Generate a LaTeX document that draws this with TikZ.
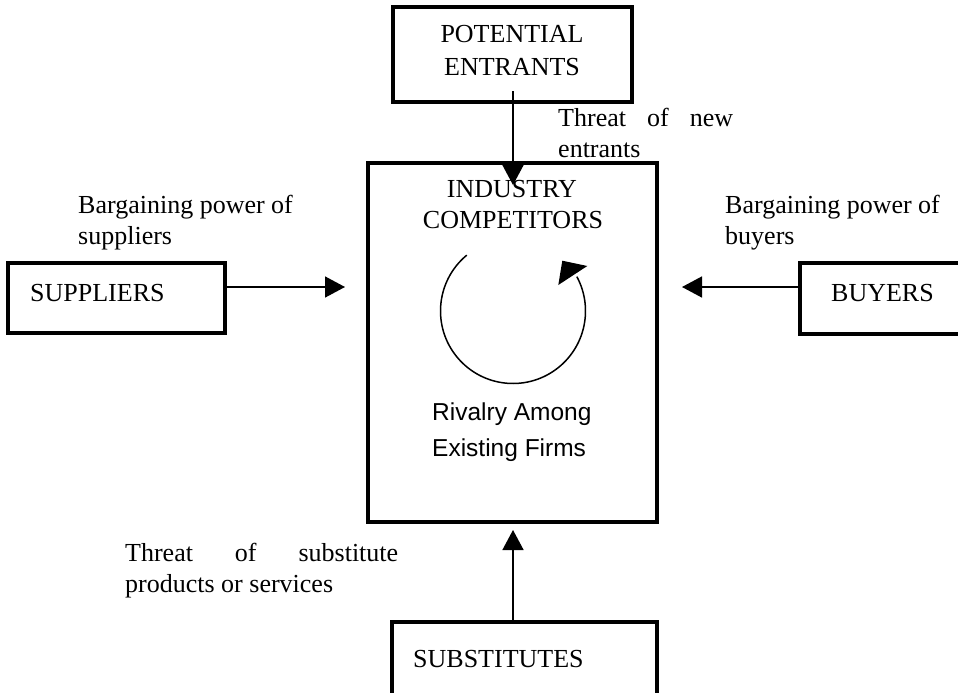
\documentclass[tikz,border=0pt]{standalone}
\usepackage{fontspec}
\setmainfont{Liberation Serif}
\newfontfamily\arialf{Liberation Sans}
\usetikzlibrary{arrows.meta}
\begin{document}
\begin{tikzpicture}[x=1pt,y=-1pt,
  box/.style={draw, line width=3.4pt, inner sep=0pt, rectangle},
  lbl/.style={inner sep=0pt, anchor=base west, font=\fontsize{26}{30}\selectfont},
  clbl/.style={inner sep=0pt, anchor=base, font=\fontsize{26}{30}\selectfont},
  slbl/.style={inner sep=0pt, anchor=base west, font=\arialf\fontsize{24.5}{28}\selectfont},
  arr/.style={line width=1.5pt, -{Triangle[length=20pt,width=21pt]}},
  thin/.style={line width=1.5pt}]
\useasboundingbox (0,0) rectangle (958,693);

% boxes
\node[box, minimum width=239pt, minimum height=95pt] (pot) at (512.5,54.5) {};
\node[box, minimum width=289pt, minimum height=359pt] (ind) at (512.5,342.5) {};
\node[box, minimum width=217pt, minimum height=70pt] (sup) at (116.5,298) {};
\node[box, minimum width=162pt, minimum height=71pt] (buy) at (881,298.5) {};
\node[box, minimum width=265pt, minimum height=100pt] (sub) at (524.5,672) {};

% texts
\node[clbl] (potT1) at (512,43) {POTENTIAL};
\node[clbl] (potT2) at (512,75) {ENTRANTS};
\node[lbl] (tn1) at (558,126) {\makebox[175pt][s]{Threat of new}};
\node[lbl] (tn2) at (558,157) {entrants};
\node[clbl] (indT1) at (512,197) {INDUSTRY};
\node[clbl] (indT2) at (513,228) {COMPETITORS};
\node[lbl] (bs1) at (78,213) {Bargaining power of};
\node[lbl] (bs2) at (78,244) {suppliers};
\node[lbl] (supT) at (30,301) {SUPPLIERS};
\node[lbl] (bb1) at (725,213) {Bargaining power of};
\node[lbl] (bb2) at (725,244) {buyers};
\node[lbl] (buyT) at (831,301) {BUYERS};
\node[slbl] (riv1) at (432,420) {Rivalry Among};
\node[slbl] (riv2) at (432,456) {Existing Firms};
\node[lbl] (ts1) at (125,561) {\makebox[273pt][s]{Threat of substitute}};
\node[lbl] (ts2) at (125,592) {products or services};
\node[lbl] (subT) at (413,667) {SUBSTITUTES};

% connectors
\coordinate (potS) at (513,91);
\coordinate (indN) at (513,185);
\draw[arr] (potS) -- (indN);
\coordinate (supTip) at (345,287);
\draw[arr] (sup.east |- supTip) -- (supTip);
\coordinate (buyTip) at (682,287);
\draw[arr] (buy.west |- buyTip) -- (buyTip);
\coordinate (subTip) at (513,530);
\draw[arr] (sub.north -| subTip) -- (subTip);

% rivalry circle
\coordinate (rc) at (513,311);
\draw[thin] ([shift={(230.4:72.5)}]rc) arc[start angle=230.4, end angle=-28.3, radius=72.5];
\fill (562.3,260.7) -- (587.3,266) -- (558.3,285) -- cycle;
\end{tikzpicture}
\end{document}
